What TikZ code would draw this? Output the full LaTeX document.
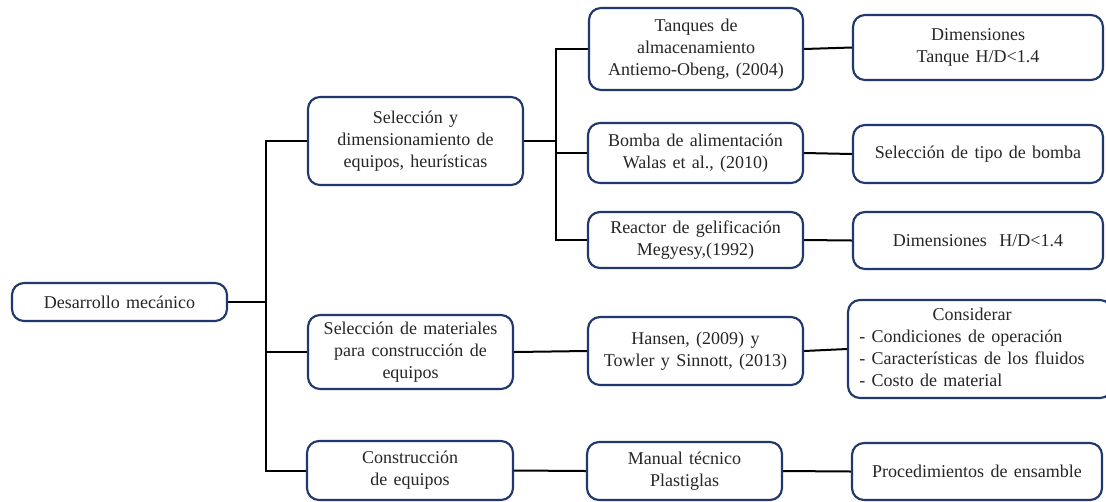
\documentclass[tikz,border=0pt]{standalone}
\usepackage{fontspec}
\setmainfont{Liberation Serif}
\definecolor{boxblue}{RGB}{31,56,110}
\newcommand{\boxfont}{\fontsize{13.5}{16.5}\selectfont\spaceskip=0.35em\relax}
\begin{document}
\begin{tikzpicture}[x=0.75pt,y=-0.75pt,
  box/.style={draw=boxblue, line width=1.6pt, rounded corners=9pt, fill=white,
    align=center, inner sep=0pt, text=black!85, font=\boxfont},
  sz/.style 2 args={minimum width=#1*0.75pt, minimum height=#2*0.75pt},
  link/.style={line width=1.5pt, black}]
\clip (0,0) rectangle (1106,501);
\fill[white] (0,0) rectangle (1106,501);

% root
\node[box, sz={215}{38}] (des) at (119.5,302) {Desarrollo mecánico};

% second level
\node[box, sz={215}{88}] (sdim) at (415.5,141) {Selección y\\dimensionamiento de\\equipos, heurísticas};
\node[box, sz={205}{74}] (smat) at (410.5,352) {Selección de materiales\\para construcción de\\equipos};
\node[box, sz={206}{59}] (cons) at (410,470.5) {Construcción\\de equipos};

% third level
\node[box, sz={214}{82}] (tanq) at (696,49) {Tanques de\\almacenamiento\\Antiemo-Obeng, (2004)};
\node[box, sz={215}{60}] (bomba) at (695.5,153) {Bomba de alimentación\\Walas et al., (2010)};
\node[box, sz={215}{56}] (reac) at (695.5,240) {Reactor de gelificación\\Megyesy,(1992)};
\node[box, sz={215}{68}] (hansen) at (695.5,351) {Hansen, (2009) y\\Towler y Sinnott, (2013)};
\node[box, sz={195}{58}] (manual) at (684.5,471) {Manual técnico\\Plastiglas};

% fourth level
\node[box, sz={250}{65}] (dimt) at (978,47.5) {Dimensiones\\Tanque H/D<1.4};
\node[box, sz={250}{58}] (selb) at (978,154) {Selección de tipo de bomba};
\node[box, sz={250}{57}] (dimh) at (978,240.5) {Dimensiones~ H/D<1.4};
\node[box, sz={264}{98}] (consid) at (980,349)
  {\begin{tabular}{@{}l@{}}\multicolumn{1}{@{}c@{}}{Considerar}\\
   - Condiciones de operación\\
   - Características de los fluidos\\
   - Costo de material\end{tabular}\hspace*{12pt}};
\node[box, sz={250}{57}] (proc) at (977,471.5) {Procedimientos de ensamble};

% junctions
\coordinate (j1) at (266,302);
\coordinate (j2) at (556,141);

% connectors
\draw[link] (des.east) -- (j1);
\draw[link] (sdim.west) -| (j1);
\draw[link] (j1) |- (smat.west);
\draw[link] (j1) |- (cons.west);

\draw[link] (sdim.east) -- (j2);
\draw[link] (tanq.west) -| (j2);
\draw[link] (j2) |- (bomba.west);
\draw[link] (j2) |- (reac.west);

\draw[link] (tanq.east) -- (dimt.west);
\draw[link] (bomba.east) -- (selb.west);
\draw[link] (reac.east) -- (dimh.west);
\draw[link] (smat.east) -- (hansen.west);
\draw[link] (hansen.east) -- (consid.west);
\draw[link] (cons.east) -- (manual.west);
\draw[link] (manual.east) -- (proc.west);
\end{tikzpicture}
\end{document}
